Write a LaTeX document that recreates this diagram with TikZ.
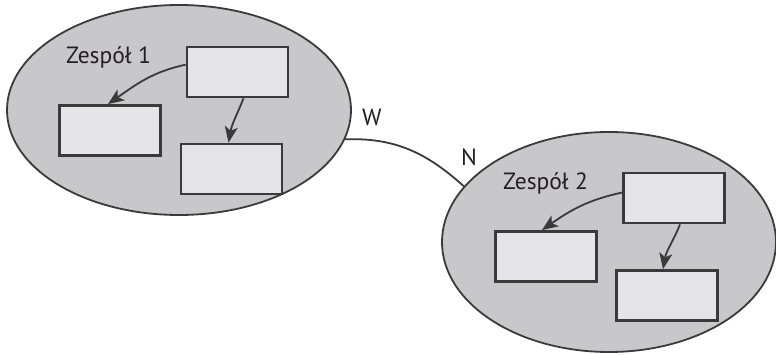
\documentclass[tikz,border=0pt]{standalone}
\usepackage{fontspec}
\setmainfont{PT Sans}
\usetikzlibrary{shapes.geometric,arrows.meta}
\definecolor{ink}{HTML}{3A3A3B}
\definecolor{txt}{HTML}{231F20}
\definecolor{ellfill}{HTML}{C8C8CA}
\definecolor{boxfill}{HTML}{E5E5E7}
\tikzset{
  team/.style={draw=ink, line width=1.8pt, fill=ellfill, ellipse, inner sep=0pt},
  unit/.style={draw=ink, line width=2.8pt, fill=boxfill, rectangle, inner sep=0pt, minimum width=101pt, minimum height=50pt},
  flow/.style={draw=ink, line width=1.8pt, -{Stealth[length=16pt,width=13pt,inset=4pt]}},
  lbl/.style={text=txt, font=\fontsize{23.5}{28}\selectfont, inner sep=0pt, anchor=base west},
  link/.style={draw=ink, line width=1.8pt}
}
\begin{document}
\begin{tikzpicture}[x=1pt,y=-1pt]
\useasboundingbox (0,0) rectangle (776,355);
% team 1
\node[team, minimum width=344pt, minimum height=210pt] (e1) at (179,110) {};
\node[unit] (b1t) at (237.5,72) {};
\node[unit] (b1l) at (110,130.5) {};
\node[unit] (b1b) at (231.5,169) {};
\node[lbl] (t1) at (66,64) {Zespół 1};
\draw[flow] (b1t.172) to[out=192, in=35] ([xshift=-2pt]b1l.north);
\draw[flow] ([xshift=6pt]b1t.south) to[out=-112, in=80] ([xshift=-3pt]b1b.north);
% team 2
\node[team, minimum width=334pt, minimum height=220pt] (e2) at (609,242) {};
\node[unit] (b2t) at (674,198) {};
\node[unit] (b2l) at (546,256.5) {};
\node[unit] (b2b) at (667,295.5) {};
\node[lbl] (t2) at (503,190) {Zespół 2};
\draw[flow] (b2t.174) to[out=192, in=35] ([xshift=-4pt]b2l.north);
\draw[flow] ([xshift=6pt]b2t.south) to[out=-112, in=80] ([xshift=-4pt]b2b.north);
% link
\coordinate (p1) at (e1.-10);
\coordinate (p2) at (e2.159);
\draw[link] (p1) to[out=2, in=138] (p2);
\node[lbl] (w) at (362,126) {W};
\node[lbl] (n) at (461,166) {N};
\end{tikzpicture}
\end{document}
